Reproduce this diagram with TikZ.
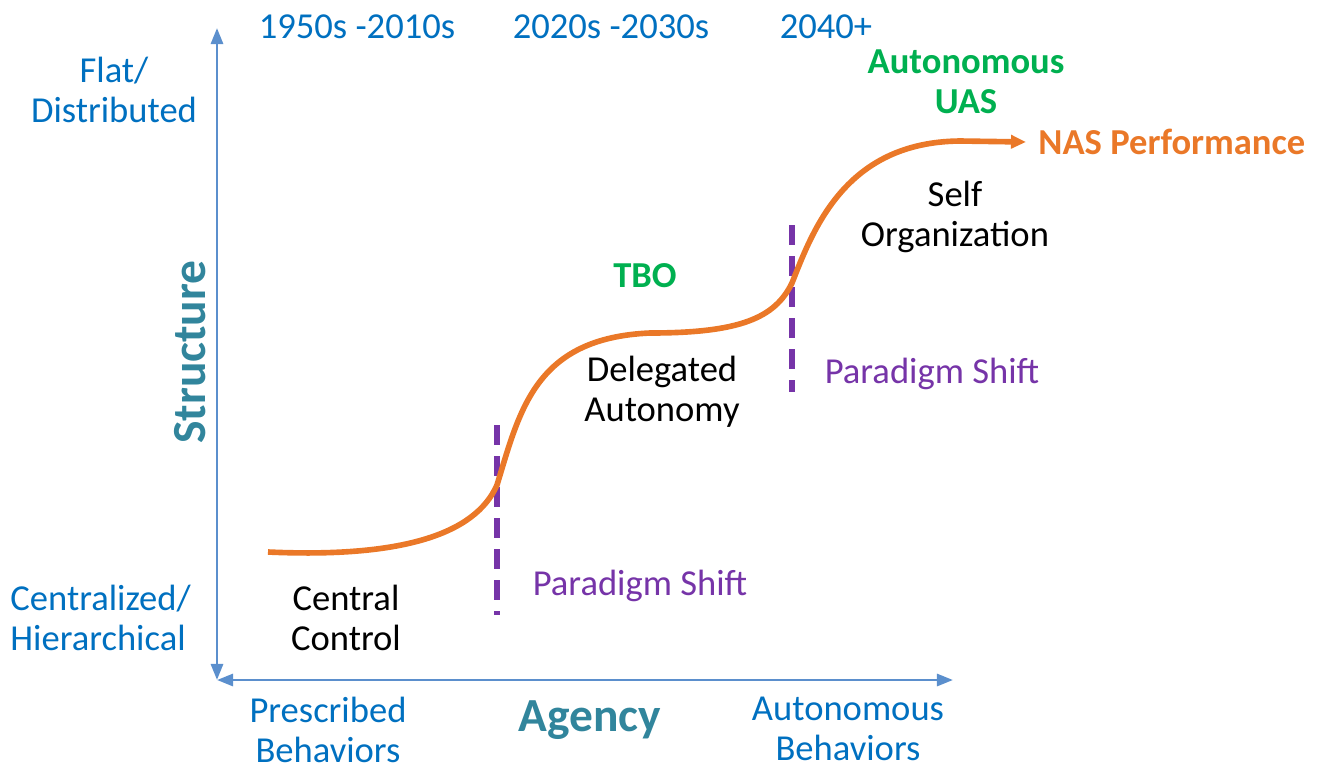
\documentclass[tikz,border=0pt]{standalone}
\usepackage{fontspec}
\setmainfont{Carlito}
\usetikzlibrary{arrows.meta}
\definecolor{axisblue}{RGB}{91,143,205}
\definecolor{textblue}{RGB}{0,112,192}
\definecolor{titleteal}{RGB}{49,133,156}
\definecolor{shiftpurple}{RGB}{118,52,168}
\definecolor{perforange}{RGB}{234,120,40}
\definecolor{labelgreen}{RGB}{0,176,80}
\tikzset{
  lbl/.style={font=\fontsize{10.4}{11.4}\selectfont,align=center},
  bluelbl/.style={lbl,text=textblue},
  greenlbl/.style={lbl,text=labelgreen,font=\fontsize{10.4}{11.4}\selectfont\bfseries},
  shiftlbl/.style={lbl,text=shiftpurple},
  axistitle/.style={text=titleteal,font=\fontsize{13.5}{15}\selectfont\bfseries},
  axis/.style={draw=axisblue,line width=0.8pt,{Triangle[length=0.16cm,width=0.12cm]}-{Triangle[length=0.16cm,width=0.12cm]}},
  shiftline/.style={draw=shiftpurple,line width=1.5pt,dash pattern=on 0.2cm off 0.11cm},
  perf/.style={draw=perforange,line width=1.6pt,-{Triangle[length=0.15cm,width=0.13cm]}}
}
\begin{document}
\begin{tikzpicture}[x=0.01cm,y=-0.01cm]
\useasboundingbox (0,0) rectangle (1320,769);
% axes
\coordinate (O) at (217,680);
\coordinate (Ytop) at (217,28);
\coordinate (Xend) at (953,680);
\draw[axis] (O) -- (Ytop);
\draw[axis] (O) -- (Xend);
\node[axistitle,rotate=90] (struct) at (190,352) {Structure};
\node[axistitle] (agency) at (590,720) {Agency};
% axis ends
\node[bluelbl] (flat) at (114,90) {Flat/\\Distributed};
\node[bluelbl,align=left,anchor=west] (central) at (-2,618) {Centralized/\\Hierarchical};
\node[bluelbl] (prescr) at (328,730) {Prescribed\\Behaviors};
\node[bluelbl] (autob) at (848,729) {Autonomous\\Behaviors};
% eras
\foreach \n/\x/\t in {era1/357/1950s -2010s,era2/611/2020s -2030s,era3/826/2040+} {
  \node[bluelbl] (\n) at (\x,27) {\t};
}
% stages
\node[lbl] (cc) at (346,618) {Central\\Control};
\node[lbl] (da) at (662,392) {Delegated\\Autonomy};
\node[lbl] (so) at (955,217) {Self\\Organization};
\node[greenlbl] (tbo) at (645,276) {TBO};
\node[greenlbl] (uas) at (966,82) {Autonomous\\UAS};
% paradigm shifts
\coordinate (P1a) at (497,425);
\coordinate (P1b) at (497,615);
\coordinate (P2a) at (792,225);
\coordinate (P2b) at (792,392);
\draw[shiftline] (P1a) -- (P1b);
\draw[shiftline] (P2a) -- (P2b);
\node[shiftlbl] (ps1) at (640,586) {Paradigm Shift};
\node[shiftlbl] (ps2) at (932,374) {Paradigm Shift};
% performance curve
\node[text=perforange,font=\fontsize{10.4}{11.4}\selectfont\bfseries,anchor=west] (nas) at (1026,142) {NAS Performance};
\coordinate (C0) at (268,552);
\coordinate (S1) at (497,485);
\coordinate (M1) at (650,333);
\coordinate (S2) at (792,283);
\draw[perf] (C0) .. controls (400,558) and (475,535) .. (S1)
  .. controls (520,410) and (535,338) .. (M1)
  .. controls (740,333) and (775,318) .. (S2)
  .. controls (813,230) and (845,142) .. (960,141) -- (nas.west);
\end{tikzpicture}
\end{document}
